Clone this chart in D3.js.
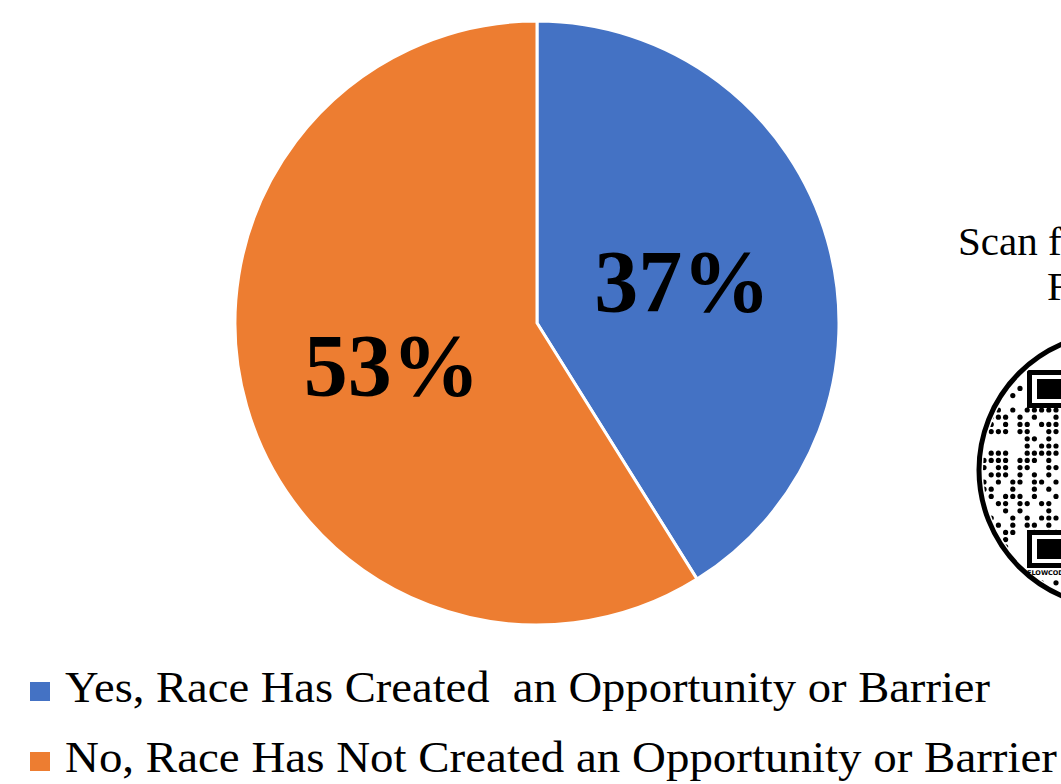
<!DOCTYPE html>
<html>
<head>
<meta charset="utf-8">
<script src="https://cdn.jsdelivr.net/npm/d3@7/dist/d3.min.js"></script>
<style>
  html, body { margin: 0; padding: 0; background: #fff; overflow: hidden; }
  svg { display: block; }
</style>
</head>
<body>
<svg id="chart" width="1061" height="784"></svg>
<script>
const categories = [
  "Yes, Race Has Created  an Opportunity or Barrier",
  "No, Race Has Not Created an Opportunity or Barrier"
];
const values = [37, 53];
const valueLabels = ["37%", "53%"];
const colors = ["#4472C4", "#ED7D31"];
const qrCaption = ["Scan for", "F"];
// decorative QR dot pattern (visible left part of the code)
const qrRows = [
  "......11.1.",
  ".....1.111.",
  "....1......",
  "...1.......",
  "..1.1......",
  "...........",
  "..1.1......",
  "...1.1.....",
  "..1.1......",
  "...........",
  "..1.1.11111",
  ".111.1.1..1",
  ".1.1.11.111",
  ".111.11..11",
  "......11.1.",
  "......1.111",
  ".111..11111",
  "1111.111.1.",
  "1.11.11..11",
  ".111.1.1.1.",
  "1.1.11.11.1",
  "11..1..1.1.",
  ".1.111.1..1",
  "..11.11.11.",
  "...1.1...1.",
  ".1..1.1.111",
  "..1.1.11.1.",
  "...11..1.11",
  "..11.......",
  "...1.......",
  "..11.......",
  "..1........",
  "...........",
  "...........",
  "....11.11.1",
  "....1111.1.",
  ".....11.1.."
];

const svg = d3.select("#chart");
const cx = 537, cy = 323, R = 302;

const pie = d3.pie().sort(null).value(d => d);
const arcs = pie(values);
const arc = d3.arc().innerRadius(0).outerRadius(R);

const g = svg.append("g").attr("transform", `translate(${cx},${cy})`);
g.selectAll("path.slice").data(arcs).join("path")
  .attr("class", "slice")
  .attr("d", arc)
  .attr("fill", (d, i) => colors[i])
  .attr("stroke", "#fff")
  .attr("stroke-width", 3)
  .attr("stroke-linejoin", "round");

g.selectAll("text.val").data(arcs).join("text")
  .attr("class", "val")
  .attr("transform", d => `translate(${arc.centroid(d)})`)
  .attr("text-anchor", "middle")
  .attr("dy", "0.34em")
  .attr("font-family", "'Liberation Serif', 'Times New Roman', serif")
  .attr("font-weight", "bold")
  .attr("font-size", 88)
  .attr("fill", "#000")
  .text((d, i) => valueLabels[i]);

// legend
const legendWidths = [925, 992];
const leg = svg.append("g");
categories.forEach((c, i) => {
  const base = 702 + i * 70;
  leg.append("rect")
    .attr("x", 30).attr("y", base - 20)
    .attr("width", 20).attr("height", 19)
    .attr("fill", colors[i]);
  leg.append("text")
    .attr("x", 65).attr("y", base)
    .attr("font-family", "'Liberation Serif', 'Times New Roman', serif")
    .attr("font-size", 44)
    .attr("fill", "#000")
    .attr("textLength", legendWidths[i])
    .attr("lengthAdjust", "spacingAndGlyphs")
    .style("white-space", "pre")
    .text(c);
});

// QR caption
const qg = svg.append("g");
qg.append("text").attr("x", 958).attr("y", 255)
  .attr("font-family", "'Liberation Serif', serif").attr("font-size", 41).attr("fill", "#000")
  .text(qrCaption[0]);
qg.append("text").attr("x", 1047).attr("y", 300)
  .attr("font-family", "'Liberation Serif', serif").attr("font-size", 41).attr("fill", "#000")
  .text(qrCaption[1]);

// QR code badge
const qcx = 1116, qcy = 470, qr = 137;
svg.append("clipPath").attr("id", "qrclip")
  .append("circle").attr("cx", qcx).attr("cy", qcy).attr("r", qr - 4);
qg.append("circle").attr("cx", qcx).attr("cy", qcy).attr("r", qr)
  .attr("fill", "#fff").attr("stroke", "#000").attr("stroke-width", 5);
const dots = qg.append("g").attr("clip-path", "url(#qrclip)");
const step = 7.2, x0 = 984, y0 = 338;
qrRows.forEach((row, r) => {
  row.split("").forEach((ch, col) => {
    if (ch === "1") {
      dots.append("circle")
        .attr("cx", x0 + col * step).attr("cy", y0 + r * step)
        .attr("r", 2.6).attr("fill", "#000");
    }
  });
});
[370, 530].forEach(fy => {
  dots.append("rect").attr("x", 1027).attr("y", fy).attr("width", 40).attr("height", 38).attr("fill", "#000");
  dots.append("rect").attr("x", 1032).attr("y", fy + 5).attr("width", 40).attr("height", 28).attr("fill", "#fff");
  dots.append("rect").attr("x", 1037).attr("y", fy + 9).attr("width", 30).attr("height", 20).attr("fill", "#000");
});
qg.append("text").attr("x", 1027).attr("y", 575)
  .attr("font-family", "'DejaVu Sans', sans-serif").attr("font-weight", "bold")
  .attr("font-size", 6.5).attr("fill", "#000").text("FLOWCODE");
</script>
</body>
</html>
